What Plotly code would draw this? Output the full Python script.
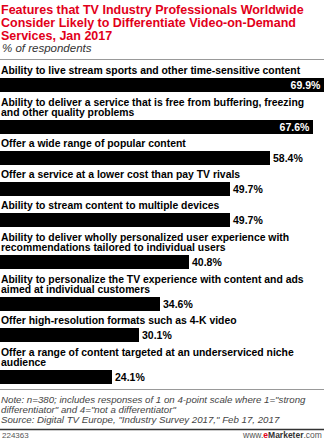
import plotly.graph_objects as go

title_lines = [
    "Features that TV Industry Professionals Worldwide",
    "Consider Likely to Differentiate Video-on-Demand",
    "Services, Jan 2017",
]
subtitle = "% of respondents"
categories = [
    "Ability to live stream sports and other time-sensitive content",
    "Ability to deliver a service that is free from buffering, freezing<br>and other quality problems",
    "Offer a wide range of popular content",
    "Offer a service at a lower cost than pay TV rivals",
    "Ability to stream content to multiple devices",
    "Ability to deliver wholly personalized user experience with<br>recommendations tailored to individual users",
    "Ability to personalize the TV experience with content and ads<br>aimed at individual customers",
    "Offer high-resolution formats such as 4-K video",
    "Offer a range of content targeted at an underserviced niche<br>audience",
]
values = [69.9, 67.6, 58.4, 49.7, 49.7, 40.8, 34.6, 30.1, 24.1]
notes = [
    'Note: n=380; includes responses of 1 on 4-point scale where 1="strong',
    'differentiator" and 4="not a differentiator"',
    'Source: Digital TV Europe, "Industry Survey 2017," Feb 17, 2017',
]
chart_id = "224363"

W, H = 324, 440
XMAX = 70
FONT = "Liberation Sans, Arial, sans-serif"

# layout rule: vertical positions derived from the number of label lines
lines = [c.split("<br>") for c in categories]
bar_centers = []
y = 84.5
for i, ln in enumerate(lines):
    if i > 0:
        y += 20 + 11 * len(ln)
    bar_centers.append(y)

# label inside the bar when there is not enough room outside
px_per_unit = W / XMAX
positions = ["inside" if v * px_per_unit + 38 > W else "outside" for v in values]
colors = ["white" if p == "inside" else "black" for p in positions]

fig = go.Figure()
fig.add_trace(go.Bar(
    x=values, y=bar_centers, orientation="h", width=14,
    marker=dict(color="#000000", line=dict(width=0)),
    text=[f"<b>{v:.1f}%</b>" for v in values],
    textposition=positions,
    insidetextanchor="end",
    textfont=dict(family=FONT, size=10.5, color=colors),
    constraintext="none", cliponaxis=False, hoverinfo="skip",
))

ann = []
for i, t in enumerate(title_lines):
    ann.append(dict(x=0, xref="paper", y=10 + 12.8 * i, yref="y", text=f"<b>{t}</b>",
                    xanchor="left", yanchor="middle", showarrow=False, borderpad=0,
                    font=dict(family=FONT, size=12.5, color="#e2001a")))
ann.append(dict(x=0, xref="paper", y=48, yref="y", text=f"<i>{subtitle}</i>",
                xanchor="left", yanchor="middle", showarrow=False,
                font=dict(family=FONT, size=11.5, color="#333333")))
for bc, ln in zip(bar_centers, lines):
    n = len(ln)
    for j, t in enumerate(ln):
        ann.append(dict(x=0, xref="paper", y=bc - 14 - 10.5 * (n - 1 - j), yref="y",
                        text=f"<b>{t}</b>", xanchor="left", yanchor="middle", showarrow=False,
                        borderpad=0,
                        font=dict(family=FONT, size=10.4, color="#000000")))
for i, t in enumerate(notes):
    ann.append(dict(x=0, xref="paper", y=399.5 + 9.8 * i, yref="y", text=f"<i>{t}</i>",
                    xanchor="left", yanchor="middle", showarrow=False, borderpad=0,
                    font=dict(family=FONT, size=9.7, color="#444444")))
ann.append(dict(x=0, xref="paper", y=435, yref="y", text=chart_id,
                xanchor="left", yanchor="middle", showarrow=False,
                font=dict(family=FONT, size=8, color="#555555")))
ann.append(dict(x=1, xref="paper", y=435, yref="y",
                text='www.<b><span style="color:#e2001a">e</span><span style="color:#333333">Marketer</span></b>.com',
                xanchor="right", yanchor="middle", showarrow=False,
                font=dict(family=FONT, size=8.5, color="#555555")))

shapes = [
    dict(type="line", xref="paper", yref="y", x0=0, x1=1, y0=59.5, y1=59.5,
         line=dict(color="#999999", width=1)),
    dict(type="line", xref="paper", yref="y", x0=0, x1=1, y0=389.5, y1=389.5,
         line=dict(color="#999999", width=1)),
    dict(type="line", xref="paper", yref="y", x0=0, x1=1, y0=429.5, y1=429.5,
         line=dict(color="#333333", width=1.5)),
]

fig.update_layout(
    width=W, height=H, margin=dict(l=0, r=0, t=0, b=0),
    paper_bgcolor="white", plot_bgcolor="white", showlegend=False,
    xaxis=dict(range=[0, XMAX], domain=[0, 1], visible=False, fixedrange=True),
    yaxis=dict(range=[H, 0], domain=[0, 1], visible=False, fixedrange=True),
    annotations=ann, shapes=shapes, bargap=0,
)
fig.write_html("out.html", config={"displayModeBar": False})
